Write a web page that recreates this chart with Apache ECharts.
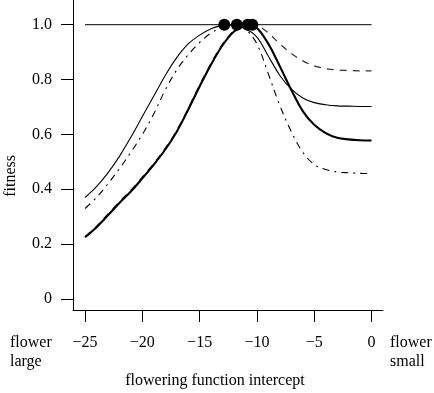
<!DOCTYPE html>
<html>
<head>
<meta charset="utf-8">
<script src="https://cdn.jsdelivr.net/npm/echarts@6/dist/echarts.min.js"></script>
<style>
  html, body { margin: 0; padding: 0; background: #fff; }
  #chart { width: 434px; height: 393px; }
</style>
</head>
<body>
<div id="chart"></div>
<script>
// tick values
var xTicks = [-25, -20, -15, -10, -5, 0];
var yTicks = [0, 0.2, 0.4, 0.6, 0.8, 1.0];

// thin solid curve
var thinX = [-25, -24, -23, -22, -21, -20, -19, -18, -17, -16, -15, -14, -13, -12.85, -12, -11, -10, -9, -8, -7, -6, -5, -4, -3, -2, -1, 0];
var thinY = [0.37, 0.41, 0.46, 0.52, 0.59, 0.665, 0.74, 0.815, 0.88, 0.93, 0.962, 0.985, 0.999, 1.0, 0.997, 0.985, 0.955, 0.885, 0.815, 0.765, 0.733, 0.716, 0.708, 0.704, 0.703, 0.702, 0.702];

// dash-dot curve
var dashDotX = [-25, -24, -23, -22, -21, -20, -19, -18, -17, -16, -15, -14, -13, -12, -11.75, -11, -10, -9, -8, -7, -6, -5, -4, -3, -2, -1, 0];
var dashDotY = [0.33, 0.37, 0.42, 0.475, 0.535, 0.6, 0.675, 0.762, 0.835, 0.89, 0.935, 0.97, 0.99, 0.999, 1.0, 0.985, 0.93, 0.82, 0.705, 0.61, 0.535, 0.49, 0.472, 0.463, 0.46, 0.458, 0.457];

// thick solid curve
var thickX = [-25, -24, -23, -22, -21, -20, -19, -18, -17, -16, -15, -14, -13, -12, -11, -10.8, -10, -9, -8, -7, -6, -5, -4, -3, -2, -1, 0];
var thickY = [0.225, 0.262, 0.305, 0.35, 0.392, 0.44, 0.49, 0.545, 0.61, 0.69, 0.775, 0.855, 0.925, 0.975, 0.998, 1.0, 0.988, 0.93, 0.848, 0.762, 0.685, 0.635, 0.605, 0.588, 0.582, 0.579, 0.578];

// dashed curve
var dashedX = [-25, -24, -23, -22, -21, -20, -19, -18, -17, -16, -15, -14, -13, -12, -11, -10.4, -10, -9, -8, -7, -6, -5, -4, -3, -2, -1, 0];
var dashedY = [0.228, 0.265, 0.31, 0.355, 0.397, 0.445, 0.495, 0.55, 0.615, 0.695, 0.78, 0.86, 0.93, 0.978, 0.997, 1.0, 0.998, 0.97, 0.93, 0.895, 0.868, 0.85, 0.84, 0.835, 0.833, 0.832, 0.832];

// peaks (dots) and reference line at 1
var peakX = [-12.85, -11.75, -10.8, -10.4];
var peakY = [1, 1, 1, 1];
var refX = [-25, 0];
var refY = [1, 1];

function zip(xs, ys) {
  return xs.map(function (x, i) { return [x, ys[i]]; });
}

var font = 'Liberation Serif';
var myChart = echarts.init(document.getElementById('chart'), null, { renderer: 'canvas' });

function curve(xs, ys, width, type, color) {
  return {
    type: 'line',
    data: zip(xs, ys),
    smooth: 0.35,
    symbol: 'none',
    lineStyle: { color: color || '#000', width: width, type: type || 'solid' },
    z: 2
  };
}

var option = {
  animation: false,
  backgroundColor: '#fff',
  grid: { left: 73, right: 51, top: 0, bottom: 83 },
  xAxis: {
    type: 'value',
    min: -26.05,
    max: 1.0,
    splitLine: { show: false },
    axisLine: { onZero: false, lineStyle: { color: '#000', width: 1 } },
    axisTick: { customValues: xTicks, length: 12, lineStyle: { color: '#000' } },
    axisLabel: {
      customValues: xTicks,
      margin: 25,
      color: '#000',
      fontFamily: font,
      fontSize: 16,
      formatter: function (v) { return String(v).replace('-', '\u2212'); }
    }
  },
  yAxis: {
    type: 'value',
    min: -0.04,
    max: 1.09,
    splitLine: { show: false },
    axisLine: { show: true, onZero: false, lineStyle: { color: '#000', width: 1 } },
    axisTick: { show: true, customValues: yTicks, length: 12, lineStyle: { color: '#000' } },
    axisLabel: {
      customValues: yTicks,
      margin: 21,
      color: '#000',
      fontFamily: font,
      fontSize: 16,
      formatter: function (v) { return v === 0 ? '0' : v.toFixed(1); }
    }
  },
  graphic: [
    { type: 'text', left: 3, top: 155, rotation: Math.PI / 2, originX: 0, originY: 0,
      style: { text: 'fitness', font: '16px "Liberation Serif"', fill: '#000', align: 'center', verticalAlign: 'middle' } },
    { type: 'text', x: 10, y: 333, style: { text: 'flower\nlarge', font: '16px "Liberation Serif"', lineHeight: 19, fill: '#000' } },
    { type: 'text', x: 390, y: 333, style: { text: 'flower\nsmall', font: '16px "Liberation Serif"', lineHeight: 19, fill: '#000' } },
    { type: 'text', x: 215, y: 381, style: { text: 'flowering function intercept', font: '16px "Liberation Serif"', fill: '#000', align: 'center', verticalAlign: 'middle' } }
  ],
  series: [
    {
      type: 'line',
      data: zip(refX, refY),
      symbol: 'none',
      lineStyle: { color: '#000', width: 1 },
      z: 1
    },
    curve(thinX, thinY, 1.1),
    curve(dashDotX, dashDotY, 1.1, [7, 5, 2, 5]),
    curve(dashedX, dashedY, 1.2, [7, 6], '#333'),
    curve(thickX, thickY, 2.1),
    {
      type: 'scatter',
      data: zip(peakX, peakY),
      symbol: 'circle',
      symbolSize: 12,
      itemStyle: { color: '#000', opacity: 1 },
      z: 5
    }
  ]
};

myChart.setOption(option);
</script>
</body>
</html>
